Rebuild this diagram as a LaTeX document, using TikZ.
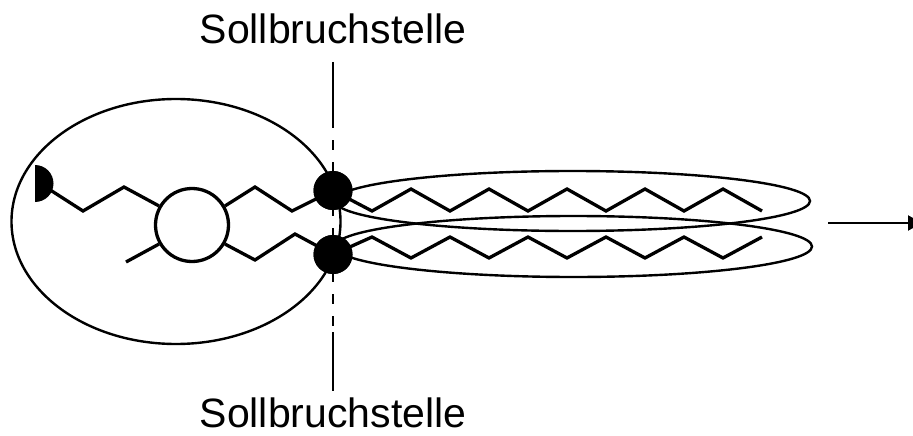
\documentclass[tikz,border=0pt]{standalone}
\usepackage{fontspec}
\setmainfont{Liberation Sans}
\usetikzlibrary{arrows.meta}
\begin{document}
\begin{tikzpicture}[x=1pt,y=-1pt,
  outline/.style={draw=black,line width=2.4pt},
  chain/.style={draw=black,line width=3.3pt,line join=miter,line cap=butt},
  headgroup/.style={circle,draw=black,line width=3.3pt,fill=white,minimum size=73pt,inner sep=0pt},
  anchordot/.style={circle,fill=black,minimum size=39pt,inner sep=0pt},
  breaklabel/.style={font=\fontsize{41}{44}\selectfont,inner sep=0pt,anchor=base},
  cutline/.style={draw=black,line width=2.2pt}]
\useasboundingbox (0,0) rectangle (913,436);

% vesicle membrane and the two extended tails
\draw[outline] (176,221.5) ellipse [x radius=164.5, y radius=122.5];
\draw[outline] (572.5,201) ellipse [x radius=237.5, y radius=30];
\draw[outline] (573.5,246.5) ellipse [x radius=238.5, y radius=30.5];

% labels and the breaking line
\node[breaklabel] (top) at (333,44) {Sollbruchstelle};
\node[breaklabel] (bottom) at (333,427) {Sollbruchstelle};
\coordinate (t1) at (333,62);
\coordinate (t2) at (333,128);
\coordinate (d1) at (333,140);
\coordinate (d2) at (333,327);
\coordinate (b1) at (333,332);
\coordinate (b2) at (333,391);
\draw[cutline] (t1) -- (t2);
\draw[cutline,dash pattern=on 10pt off 12pt] (d1) -- (d2);
\draw[cutline] (b1) -- (b2);

% head group and anchoring dots
\node[headgroup] (head) at (192,225) {};
\node[anchordot] (up) at (333,190.5) {};
\node[anchordot] (low) at (333,254.5) {};

% chains inside the vesicle
\draw[chain] (44,186) -- (83,211) -- (124,187) -- (head.150);
\draw[chain] (126,262) -- (head.210);
\draw[chain] (head.30) -- (255,187) -- (292,211) -- (up.center);
\draw[chain] (head.330) -- (255,260) -- (295,234) -- (low.center);

% zigzag tails
\draw[chain] (up.center) -- (372,211) -- (411,189) -- (450,211) -- (489,189)
  -- (528,211) -- (567,189) -- (606,211) -- (645,189) -- (684,211) -- (723,189) -- (762,211);
\draw[chain] (low.center) -- (372,237) -- (411,258) -- (450,237) -- (489,258)
  -- (528,237) -- (567,258) -- (606,237) -- (645,258) -- (684,237) -- (723,258) -- (762,237);

% redraw the dots on top of the chains
\node[anchordot] at (up.center) {};
\node[anchordot] at (low.center) {};

% half-disc end group
\fill[black] (35,165) arc[start angle=-90, end angle=90, radius=18.5] -- cycle;

% direction of pulling
\coordinate (a1) at (828,223);
\coordinate (a2) at (922,223);
\draw[line width=2.2pt,-{Triangle[length=14pt,width=15pt]}] (a1) -- (a2);
\end{tikzpicture}
\end{document}
